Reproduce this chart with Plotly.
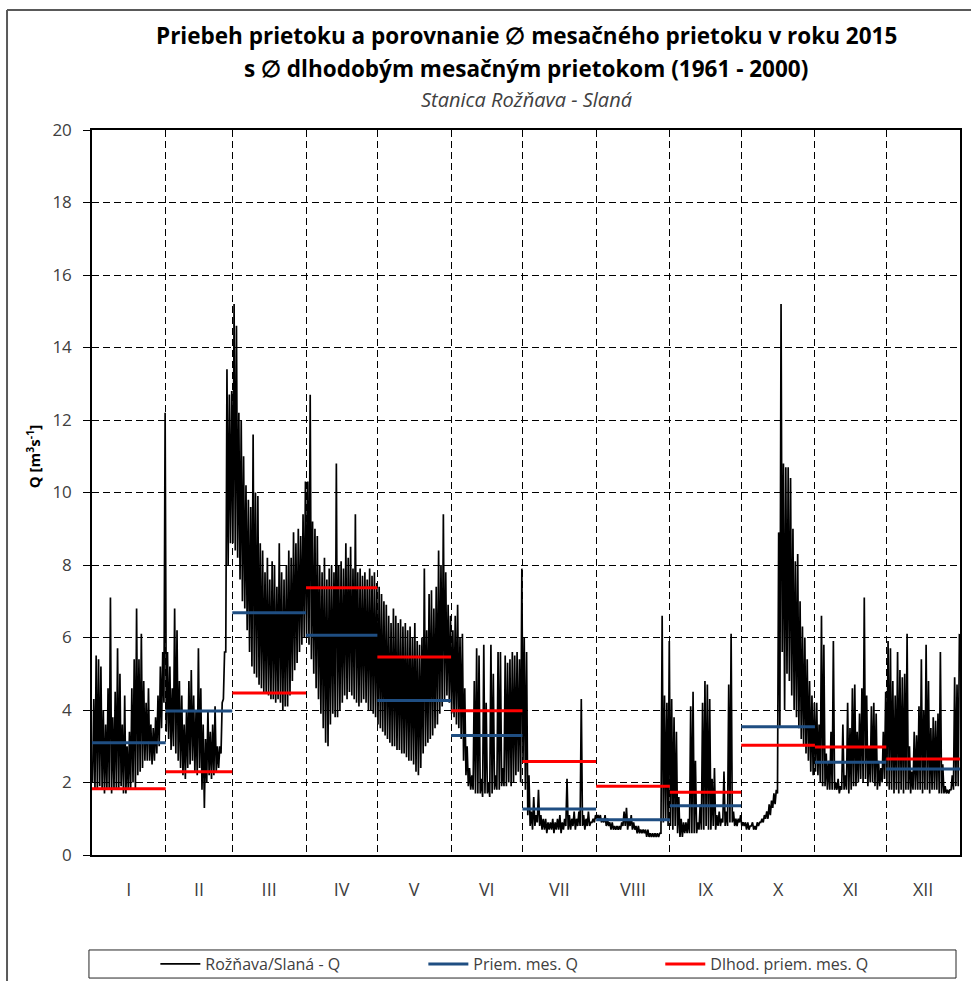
import plotly.graph_objects as go

# Daily flow range (daily minimum, daily maximum) in m3/s, Rožňava - Slaná, 2015
q_jan = [(2.0, 4.3), (1.8, 5.5), (1.8, 5.4), (1.9, 5.2), (1.8, 4.0), (1.7, 3.6), (1.8, 4.6),
         (1.8, 7.1), (1.7, 3.8), (1.8, 4.5), (1.8, 5.7), (1.8, 5.0), (1.9, 3.6), (1.7, 4.4),
         (1.7, 3.0), (1.8, 3.4), (1.8, 4.6), (2.0, 5.4), (1.8, 6.8), (2.2, 5.4), (2.3, 6.1),
         (2.4, 4.8), (2.6, 4.2), (2.6, 4.6), (2.6, 3.6), (2.5, 3.5), (2.6, 3.8), (2.8, 4.4),
         (3.0, 5.2), (3.5, 5.6), (4.2, 12.2)]
q_feb = [(3.4, 5.6), (3.2, 5.2), (2.9, 4.6), (3.0, 6.8), (2.8, 6.2), (2.6, 4.8), (2.4, 4.4),
         (2.2, 3.6), (2.1, 4.0), (2.4, 4.8), (2.5, 5.1), (2.6, 4.4), (2.3, 4.0), (2.2, 5.7),
         (2.4, 4.6), (1.8, 3.6), (1.3, 3.2), (2.0, 4.0), (2.2, 3.4), (2.1, 3.6), (2.2, 4.1),
         (2.3, 3.0), (2.4, 3.0), (2.8, 4.2), (4.3, 5.6), (5.6, 13.4), (8.0, 12.7), (8.6, 12.8)]
q_mar = [(8.6, 15.2), (8.4, 14.6), (8.2, 12.2), (7.6, 12.0), (7.0, 11.0), (6.8, 10.2), (6.2, 9.8),
         (5.6, 9.6), (5.2, 11.6), (5.0, 10.0), (4.9, 9.9), (4.7, 8.6), (4.6, 8.4), (4.5, 7.8),
         (4.5, 8.2), (4.4, 7.6), (4.3, 8.1), (4.3, 8.0), (4.2, 7.4), (4.3, 8.6), (4.2, 7.8),
         (4.0, 7.6), (4.1, 8.0), (4.1, 8.4), (4.4, 8.2), (4.8, 8.9), (5.1, 8.6), (5.3, 9.0),
         (5.6, 8.8), (5.8, 9.4), (6.0, 10.3)]
q_apr = [(6.0, 10.3), (5.8, 12.7), (5.4, 9.2), (5.0, 9.0), (4.6, 8.8), (4.3, 8.0), (3.9, 7.8),
         (3.5, 8.2), (3.1, 7.6), (3.0, 7.9), (3.6, 8.0), (3.9, 7.8), (3.8, 10.8), (3.8, 8.0),
         (4.0, 8.1), (4.2, 7.9), (4.4, 8.6), (4.3, 8.2), (4.5, 8.5), (4.4, 7.9), (4.3, 9.4),
         (4.2, 7.8), (4.1, 7.9), (4.2, 7.7), (4.3, 7.8), (4.2, 7.6), (4.0, 7.9), (4.0, 7.7),
         (3.9, 7.8), (3.8, 7.5)]
q_may = [(3.6, 7.4), (3.5, 7.2), (3.4, 7.0), (3.3, 6.9), (3.2, 6.6), (3.1, 6.4), (3.0, 6.8),
         (3.0, 6.6), (2.9, 6.4), (2.9, 6.5), (2.8, 6.3), (2.8, 6.4), (2.7, 6.2), (2.6, 6.3),
         (2.6, 6.0), (2.5, 6.4), (2.3, 5.9), (2.2, 5.8), (2.4, 6.0), (2.8, 7.9), (3.0, 6.2),
         (3.1, 7.2), (3.2, 7.3), (3.3, 6.8), (3.5, 7.4), (3.6, 8.4), (3.9, 8.0), (4.1, 9.4),
         (4.3, 7.8), (4.4, 6.9), (4.2, 6.6)]
q_jun = [(3.9, 6.2), (3.8, 6.6), (3.6, 6.9), (3.5, 6.0), (3.2, 6.1), (2.6, 4.6), (2.2, 3.0),
         (1.9, 2.4), (1.8, 2.2), (1.8, 4.8), (1.7, 5.7), (1.7, 5.5), (1.7, 2.1), (1.6, 5.8),
         (1.7, 4.2), (1.7, 2.0), (1.6, 5.8), (1.7, 5.0), (1.8, 2.2), (1.8, 5.6), (1.8, 5.6),
         (1.9, 2.4), (1.9, 5.5), (1.9, 5.3), (2.0, 5.4), (1.9, 5.6), (2.0, 5.5), (2.2, 5.6),
         (2.3, 5.4), (2.0, 7.9)]
q_jul = [(2.6, 6.0), (1.8, 5.6), (1.1, 2.2), (0.8, 1.2), (0.7, 1.6), (0.8, 1.1), (0.9, 1.8),
         (0.8, 1.1), (0.7, 1.0), (0.7, 1.0), (0.6, 0.9), (0.7, 0.9), (0.7, 1.0), (0.6, 0.9),
         (0.7, 1.0), (0.7, 1.1), (0.6, 0.9), (0.7, 1.0), (0.8, 2.1), (0.7, 1.1), (0.7, 1.0),
         (0.8, 1.2), (0.7, 1.0), (0.8, 1.2), (0.8, 4.3), (0.8, 1.1), (0.7, 1.0), (0.8, 1.2),
         (0.8, 0.9), (0.9, 1.0), (0.9, 1.1)]
q_aug = [(1.0, 1.1), (1.0, 1.1), (0.9, 1.0), (0.9, 1.1), (0.8, 1.0), (0.8, 0.9), (0.7, 0.9),
         (0.7, 0.8), (0.7, 0.8), (0.7, 0.8), (0.7, 0.9), (0.8, 1.2), (0.8, 1.3), (0.7, 1.0),
         (0.8, 1.1), (0.7, 0.9), (0.7, 0.8), (0.6, 0.8), (0.6, 0.7), (0.6, 0.7), (0.6, 0.7),
         (0.5, 0.7), (0.5, 0.6), (0.5, 0.6), (0.5, 0.6), (0.5, 0.6), (0.5, 0.6), (0.6, 6.6),
         (0.9, 4.4), (1.0, 4.2), (0.8, 5.9)]
q_sep = [(0.8, 4.3), (0.7, 3.8), (0.8, 3.4), (0.6, 1.6), (0.5, 1.0), (0.5, 0.9), (0.6, 0.9),
         (0.6, 1.0), (0.6, 4.1), (0.6, 4.5), (0.6, 2.6), (0.6, 0.9), (0.7, 1.4), (0.7, 4.2),
         (0.7, 4.8), (0.8, 4.7), (0.7, 4.3), (0.7, 2.1), (0.8, 2.4), (0.7, 1.1), (0.8, 1.2),
         (0.8, 1.0), (0.9, 2.3), (0.8, 1.2), (0.8, 4.7), (0.9, 6.1), (0.9, 1.2), (0.8, 1.0),
         (0.8, 1.0), (0.9, 1.1)]
q_oct = [(0.8, 0.9), (0.8, 0.9), (0.7, 0.9), (0.7, 0.8), (0.8, 0.9), (0.7, 0.8), (0.7, 0.9),
         (0.8, 0.9), (0.9, 1.0), (0.9, 1.1), (1.0, 1.2), (1.0, 1.4), (1.1, 1.5), (1.3, 1.7),
         (1.4, 1.8), (1.7, 8.9), (3.5, 15.2), (5.6, 10.8), (4.0, 10.7), (5.0, 10.7), (4.8, 10.4),
         (4.4, 9.0), (4.0, 8.1), (3.8, 8.3), (3.5, 7.0), (3.2, 6.3), (3.0, 6.0), (2.8, 5.4),
         (2.6, 4.8), (2.3, 4.4), (2.2, 4.2)]
q_nov = [(2.3, 4.2), (2.2, 3.6), (2.0, 6.6), (1.9, 5.8), (1.9, 2.8), (1.8, 2.6), (1.8, 3.4),
         (1.8, 5.9), (1.8, 2.0), (1.8, 2.1), (1.7, 1.9), (1.8, 3.6), (1.8, 2.2), (1.8, 4.2),
         (1.7, 3.5), (1.8, 4.6), (1.9, 4.7), (1.9, 3.4), (2.0, 3.9), (2.1, 4.6), (2.0, 7.1),
         (2.1, 4.4), (1.9, 3.0), (2.0, 4.1), (2.0, 4.2), (1.9, 3.9), (1.8, 2.6), (1.9, 2.4),
         (2.0, 3.4), (2.1, 4.5)]
q_dec = [(1.9, 5.9), (1.8, 5.7), (1.8, 4.8), (1.7, 4.4), (1.8, 5.6), (1.7, 5.1), (1.8, 4.9),
         (1.7, 5.0), (1.8, 6.1), (1.8, 3.0), (1.7, 2.3), (1.8, 3.4), (1.8, 3.3), (1.8, 4.1),
         (1.8, 5.4), (1.7, 4.0), (1.8, 5.8), (1.8, 4.8), (1.7, 3.5), (1.8, 3.8), (1.8, 3.7),
         (1.8, 3.9), (1.7, 5.6), (1.7, 2.5), (1.7, 1.9), (1.7, 1.8), (1.7, 1.8), (1.8, 2.2),
         (1.8, 4.9), (1.9, 4.7), (1.9, 6.1)]

months = ["I", "II", "III", "IV", "V", "VI", "VII", "VIII", "IX", "X", "XI", "XII"]
month_days = [31, 28, 31, 30, 31, 30, 31, 31, 30, 31, 30, 31]

# Mean monthly flow in 2015 and long-term mean monthly flow 1961-2000
mean_2015 = [3.10, 3.97, 6.68, 6.06, 4.26, 3.30, 1.27, 0.97, 1.36, 3.54, 2.56, 2.37]
mean_1961_2000 = [1.83, 2.30, 4.47, 7.37, 5.46, 3.98, 2.58, 1.90, 1.73, 3.03, 2.98, 2.65]

FONT = "Open Sans"
GREY = "#404040"

daily = [q_jan, q_feb, q_mar, q_apr, q_may, q_jun, q_jul, q_aug, q_sep, q_oct, q_nov, q_dec]

# month boundaries in day-of-year units
bounds = [0]
for n in month_days:
    bounds.append(bounds[-1] + n)
centers = [(bounds[i] + bounds[i + 1]) / 2 for i in range(12)]

# hydrograph: daily low and high as a zig-zag through each day
qx, qy = [], []
day = 0
for month in daily:
    for lo, hi in month:
        qx += [day + 0.25, day + 0.75]
        qy += [lo, hi]
        day += 1


def steps(values):
    xs, ys = [], []
    for i, v in enumerate(values):
        xs += [bounds[i], bounds[i + 1], None]
        ys += [v, v, None]
    return xs, ys


bx, by = steps(mean_2015)
rx, ry = steps(mean_1961_2000)

fig = go.Figure()
fig.add_trace(go.Scatter(x=qx, y=qy, mode="lines", name="Rožňava/Slaná - Q",
                         line=dict(color="black", width=1.7), legend="legend"))
fig.add_trace(go.Scatter(x=bx, y=by, mode="lines", name="Priem. mes. Q",
                         line=dict(color="#1F4E82", width=3), legend="legend2"))
fig.add_trace(go.Scatter(x=rx, y=ry, mode="lines", name="Dlhod. priem. mes. Q",
                         line=dict(color="#FF0000", width=3), legend="legend3"))

dash = "7px,4px"
legend_common = dict(orientation="h", xref="container", yref="container",
                     y=0.0173, yanchor="middle", xanchor="left", itemwidth=40,
                     bgcolor="rgba(0,0,0,0)", borderwidth=0,
                     font=dict(family=FONT, size=16, color=GREY))

fig.update_layout(
    width=971, height=981,
    margin=dict(l=92, r=11, t=130, b=126, autoexpand=False),
    paper_bgcolor="white", plot_bgcolor="white",
    font=dict(family=FONT, color=GREY),
    showlegend=True,
    legend=dict(x=0.160, **legend_common),
    legend2=dict(x=0.436, **legend_common),
    legend3=dict(x=0.680, **legend_common),
    xaxis=dict(
        range=[0, 365], tickmode="array", tickvals=centers, ticktext=months,
        ticks="outside", ticklen=18, tickcolor="rgba(0,0,0,0)",
        tickfont=dict(family=FONT, size=18, color=GREY),
        showgrid=False, zeroline=False, automargin=False,
        showline=True, linecolor="black", linewidth=1.5, mirror=True,
        minor=dict(tickmode="array", tickvals=bounds[1:-1], showgrid=True,
                   gridcolor="black", gridwidth=1, griddash=dash, ticks=""),
    ),
    yaxis=dict(
        range=[0, 20], dtick=2, tick0=0,
        ticks="outside", ticklen=7, tickcolor="black", tickwidth=1,
        ticklabelstandoff=8, automargin=False,
        tickfont=dict(family=FONT, size=17, color=GREY),
        showgrid=True, gridcolor="black", gridwidth=1, griddash=dash,
        zeroline=False, showline=True, linecolor="black", linewidth=1.5, mirror=True,
    ),
    annotations=[
        dict(text="<b>Priebeh prietoku a porovnanie ∅ mesačného prietoku v roku 2015</b>",
             xref="paper", yref="paper", x=0.5, y=1.131, xanchor="center", yanchor="middle",
             showarrow=False, font=dict(family=FONT, size=22.5, color="black")),
        dict(text="<b>s ∅ dlhodobým mesačným prietokom (1961 - 2000)</b>",
             xref="paper", yref="paper", x=0.5, y=1.0855, xanchor="center", yanchor="middle",
             showarrow=False, font=dict(family=FONT, size=22.5, color="black")),
        dict(text="<i>Stanica Rožňava - Slaná</i>",
             xref="paper", yref="paper", x=0.5, y=1.0414, xanchor="center", yanchor="middle",
             showarrow=False, font=dict(family=FONT, size=20, color=GREY)),
        dict(text="<b>Q [m<sup>3</sup>s<sup>-1</sup>]</b>", textangle=-90,
             xref="paper", yref="paper", x=-0.068, y=0.55, xanchor="center", yanchor="middle",
             showarrow=False, font=dict(family=FONT, size=15, color="black")),
    ],
    shapes=[
        # legend frame
        dict(type="rect", xref="paper", yref="paper", x0=-0.0035, x1=0.9954,
             y0=-0.1697, y1=-0.131, line=dict(color="#262626", width=1)),
        # outer chart frame (left and top edges)
        dict(type="line", xref="paper", yref="paper", x0=-0.0979, x1=-0.0979,
             y0=-0.25, y1=1.1655, line=dict(color="#595959", width=2)),
        dict(type="line", xref="paper", yref="paper", x0=-0.0979, x1=1.03,
             y0=1.1655, y1=1.1655, line=dict(color="#595959", width=2)),
    ],
)

fig.write_html("out.html")
